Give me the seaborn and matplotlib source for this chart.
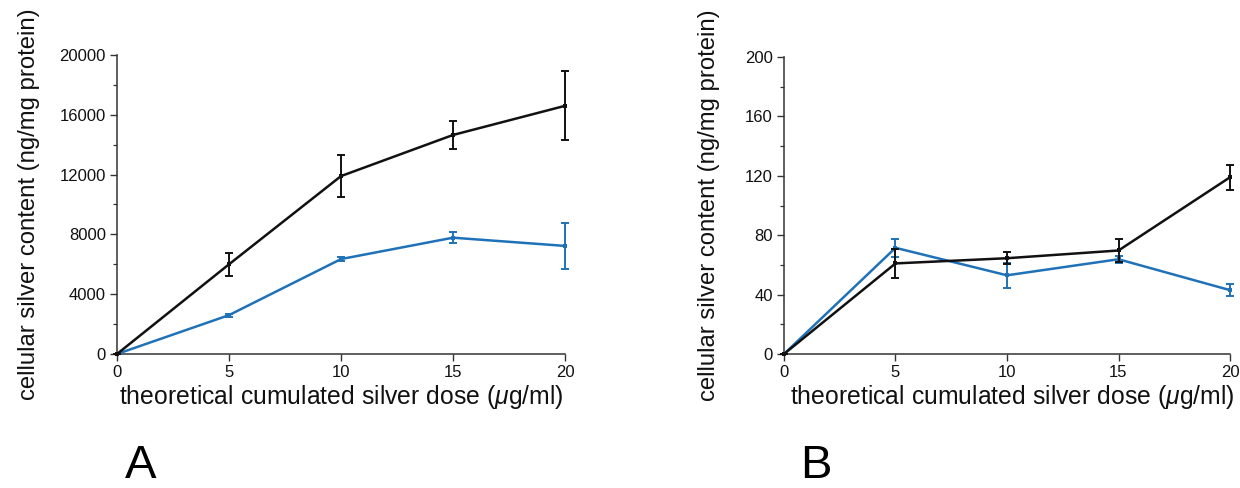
import numpy as np
import pandas as pd
import matplotlib
matplotlib.use("Agg")
import matplotlib.pyplot as plt
import seaborn as sns
from matplotlib.ticker import MultipleLocator

# ---- data ----
dose = [0, 5, 10, 15, 20]

a_black = [0, 6000, 11900, 14650, 16600]
a_black_err = [0, 750, 1400, 950, 2300]
a_blue = [0, 2600, 6350, 7780, 7230]
a_blue_err = [0, 100, 150, 350, 1550]

b_black = [0, 61, 64.5, 69.7, 119]
b_black_err = [0, 10, 4, 8, 8.5]
b_blue = [0, 71.5, 53, 63.8, 43]
b_blue_err = [0, 6, 8.5, 2.5, 4]

x_ticks = [0, 5, 10, 15, 20]
a_yticks = [0, 4000, 8000, 12000, 16000, 20000]
b_yticks = [0, 40, 80, 120, 160, 200]

xlabel = "theoretical cumulated silver dose ($\\mu$g/ml)"
ylabel = "cellular silver content (ng/mg protein)"
panel_labels = ["A", "B"]

BLACK = "#111111"
BLUE = "#1f72b8"

sns.set_theme(style="white")
plt.rcParams['font.family'] = ['Liberation Sans', 'DejaVu Sans']
plt.rcParams['mathtext.fontset'] = 'custom'
plt.rcParams['mathtext.it'] = 'Liberation Sans:italic'
plt.rcParams['mathtext.rm'] = 'Liberation Sans'

fig = plt.figure(figsize=(12.4, 4.88), dpi=100)
W, H = 1240, 488
axA = fig.add_axes([117 / W, 1 - 354 / H, (565 - 117) / W, (354 - 55) / H])
axB = fig.add_axes([784 / W, 1 - 354 / H, (1230 - 784) / W, (354 - 57) / H])


def draw(ax, black, black_err, blue, blue_err, yticks, ymax, minor, xlab_x):
    df = pd.DataFrame({
        "dose": dose * 2,
        "value": list(blue) + list(black),
        "series": ["blue"] * len(dose) + ["black"] * len(dose),
    })
    sns.lineplot(data=df, x="dose", y="value", hue="series",
                 palette={"blue": BLUE, "black": BLACK}, linewidth=1.8,
                 marker="s", markersize=3.5, markeredgewidth=0,
                 legend=False, ax=ax, clip_on=False, zorder=3)
    for vals, errs, col in [(blue, blue_err, BLUE), (black, black_err, BLACK)]:
        ax.errorbar(dose, vals, yerr=errs, fmt="none", ecolor=col,
                    elinewidth=1.4, capsize=3, capthick=1.4, clip_on=False, zorder=4)
    ax.set_xlim(0, 20)
    ax.set_ylim(0, ymax)
    ax.set_xticks(x_ticks)
    ax.set_yticks(yticks)
    ax.yaxis.set_minor_locator(MultipleLocator(minor))
    sns.despine(ax=ax)
    for s in ["left", "bottom"]:
        ax.spines[s].set_color("#333333")
        ax.spines[s].set_linewidth(1.1)
    ax.tick_params(axis="both", which="major", direction="out", length=5,
                   width=1.0, color="#333333", labelsize=12, pad=3,
                   left=True, bottom=True, labelcolor="#111111")
    ax.tick_params(axis="y", which="minor", direction="out", length=3,
                   width=0.9, color="#333333", left=True)
    ax.set_xlabel(xlabel, fontsize=17.8, color="#111111")
    ax.set_ylabel(ylabel, fontsize=17.2, color="#111111")
    ax.xaxis.set_label_coords(xlab_x, -0.145)
    ax.xaxis.label.set_va("center")
    ax.set_facecolor("white")


draw(axA, a_black, a_black_err, a_blue, a_blue_err, a_yticks, 20000, 2000, 0.5)
draw(axB, b_black, b_black_err, b_blue, b_blue_err, b_yticks, 200, 20, 0.513)
axA.yaxis.set_label_coords((29 - 117) / 448, 0.5)
axB.yaxis.set_label_coords((709 - 784) / 446, 0.5)
axA.yaxis.label.set_va("center")
axB.yaxis.label.set_va("center")

fig.text(141 / W, 1 - 478 / H, panel_labels[0], fontsize=34, ha="center", va="baseline", color="black")
fig.text(816 / W, 1 - 478 / H, panel_labels[1], fontsize=34, ha="center", va="baseline", color="black")

fig.savefig("out.png", dpi=100, facecolor="white")
